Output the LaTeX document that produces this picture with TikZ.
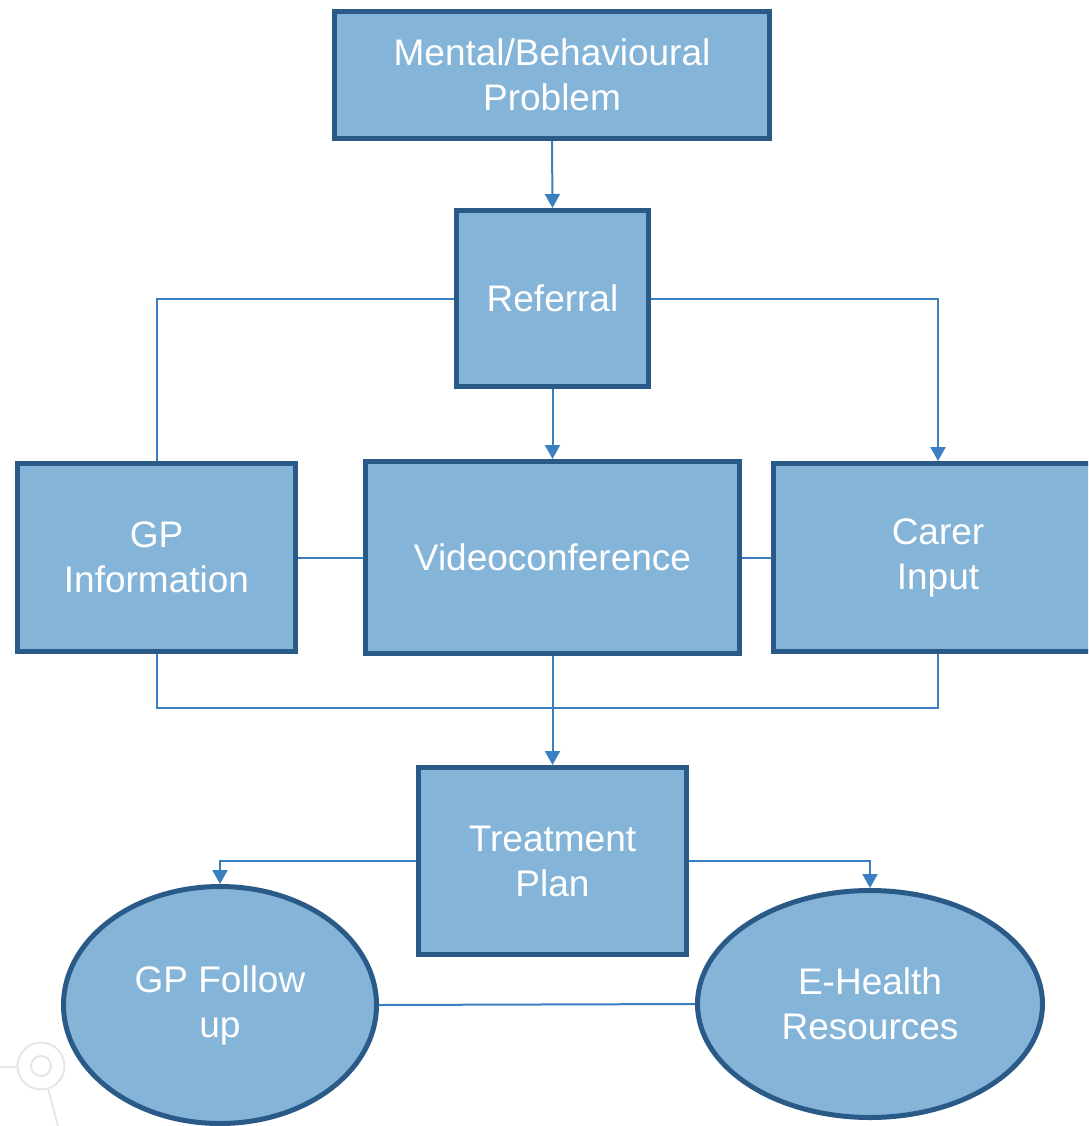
\documentclass[tikz,border=0pt]{standalone}
\usepackage{fontspec}
\setmainfont{Liberation Sans}
\usetikzlibrary{arrows.meta,shapes.geometric}
\definecolor{boxfill}{HTML}{85B4D9}
\definecolor{boxedge}{HTML}{2A5B88}
\definecolor{conn}{HTML}{3A80C1}
\definecolor{deco}{HTML}{E3E7EA}
\begin{document}
\begin{tikzpicture}[x=1pt,y=-1pt,
  box/.style={rectangle,draw=boxedge,fill=boxfill,line width=5pt,inner sep=0pt,
    text=white,align=center,font=\fontsize{37}{45}\selectfont},
  oval/.style={ellipse,draw=boxedge,fill=boxfill,line width=5pt,inner sep=0pt,
    text=white,align=center,font=\fontsize{37}{45}\selectfont},
  link/.style={draw=conn,line width=2pt},
  arr/.style={link,-{Triangle[width=15pt,length=14pt]}}]
\useasboundingbox (0,0) rectangle (1088,1126);
\clip (0,0) rectangle (1088,1126);
% faint background decoration
\draw[deco,line width=2pt] (41,1066) circle (23.5);
\draw[deco,line width=2pt] (41,1066) circle (10);
\draw[deco,line width=2pt] (0,1067) -- (17.5,1067);
\draw[deco,line width=2pt] (48,1088.5) -- (58,1126);
% nodes
\node[box,minimum width=435,minimum height=127] (m) at (552,75) {Mental/Behavioural\\Problem};
\node[box,minimum width=192,minimum height=176] (r) at (552.5,298.5) {Referral};
\node[box,minimum width=278,minimum height=188] (gp) at (156.5,557.5) {GP\\Information};
\node[box,minimum width=374,minimum height=192] (vc) at (552.5,557.5) {Videoconference};
\node[box,minimum width=329,minimum height=188] (ci) at (938,557.5) {Carer\\Input};
\node[box,minimum width=268,minimum height=187] (tp) at (552.5,861) {Treatment\\Plan};
\node[oval,minimum width=313,minimum height=237] (gf) at (220,1005) {GP Follow\\up};
\node[oval,minimum width=345,minimum height=227] (eh) at (870,1004) {E-Health\\Resources};
\coordinate (j) at (552.5,708);
% connectors
\draw[arr] (m.south) -- (r.north);
\draw[link] (r.west) -| (gp.north);
\draw[arr] (r.east) -| (ci.north);
\draw[arr] (r.south) -- (vc.north);
\draw[link] (gp.east) -- (vc.west);
\draw[link] (vc.east) -- (ci.west);
\draw[link] (gp.south) |- (j) -| (ci.south);
\draw[arr] (vc.south) -- (tp.north);
\draw[arr] (tp.west) -| (gf.north);
\draw[arr] (tp.east) -| (eh.north);
\draw[link] (gf.east) -- (eh.west);
\end{tikzpicture}
\end{document}
